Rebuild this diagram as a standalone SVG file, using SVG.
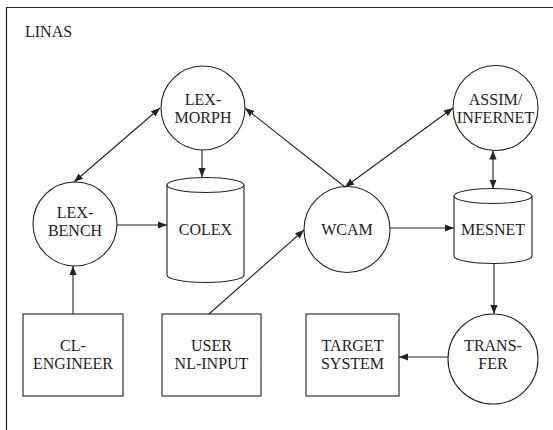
<svg xmlns="http://www.w3.org/2000/svg" width="553" height="430" viewBox="0 0 553 430">
<style>
.s{fill:#fff;stroke:#222;stroke-width:1.1}
.t{font-family:"Liberation Serif","Times New Roman",serif;font-size:16px;fill:#222;text-anchor:middle}
.c{fill:none;stroke:#222;stroke-width:1.1}
</style>
<defs>
<marker id="a" viewBox="0 0 10 10" refX="10" refY="5" markerWidth="9" markerHeight="9" markerUnits="userSpaceOnUse" orient="auto-start-reverse">
<path d="M0,1 L10,5 L0,9 Z" fill="#222"/>
</marker>
</defs>
<rect width="553" height="430" fill="#fff"/>
<path d="M6.5,430 V7.5 H553" fill="none" stroke="#222" stroke-width="1.2"/>
<text x="25" y="37" class="t" style="text-anchor:start">LINAS</text>

<g id="lexmorph"><circle cx="203" cy="108" r="42" class="s"/><text x="203" y="105" class="t">LEX-</text><text x="203" y="123" class="t">MORPH</text></g>
<g id="assim"><circle cx="495.5" cy="108" r="42.5" class="s"/><text x="495.5" y="105" class="t">ASSIM/</text><text x="495.5" y="123" class="t">INFERNET</text></g>
<g id="lexbench"><circle cx="75" cy="224" r="42" class="s"/><text x="75" y="218" class="t">LEX-</text><text x="75" y="236" class="t">BENCH</text></g>
<g id="colex"><path d="M167,185 V275 A38.5,7.5 0 0 0 244,275 V185" class="s"/><ellipse cx="205.5" cy="185" rx="38.5" ry="7.5" class="s"/><text x="205.5" y="235" class="t">COLEX</text></g>
<g id="wcam"><circle cx="347" cy="229.5" r="43" class="s"/><text x="347" y="235" class="t">WCAM</text></g>
<g id="mesnet"><path d="M454,196 V256 A39,7.5 0 0 0 532,256 V196" class="s"/><ellipse cx="493" cy="196" rx="39" ry="7.5" class="s"/><text x="493" y="235" class="t">MESNET</text></g>
<g id="clengineer"><rect x="23" y="314" width="100" height="82" class="s"/><text x="73" y="351" class="t">CL-</text><text x="73" y="369" class="t">ENGINEER</text></g>
<g id="user"><rect x="162" y="314" width="99" height="82" class="s"/><text x="211.5" y="351" class="t">USER</text><text x="211.5" y="369" class="t">NL-INPUT</text></g>
<g id="target"><rect x="306" y="314" width="93" height="82" class="s"/><text x="352.5" y="351" class="t">TARGET</text><text x="352.5" y="369" class="t">SYSTEM</text></g>
<g id="transfer"><circle cx="493" cy="359" r="45" class="s"/><text x="493" y="351" class="t">TRANS-</text><text x="493" y="369" class="t">FER</text></g>

<g id="connectors">
<line x1="74" y1="182" x2="160" y2="108" class="c" marker-start="url(#a)" marker-end="url(#a)"/>
<line x1="202" y1="150" x2="202" y2="177" class="c" marker-end="url(#a)"/>
<line x1="345" y1="187" x2="245" y2="108" class="c" marker-end="url(#a)"/>
<line x1="345" y1="187" x2="453" y2="108" class="c" marker-start="url(#a)" marker-end="url(#a)"/>
<line x1="493" y1="150.5" x2="493" y2="188.5" class="c" marker-start="url(#a)" marker-end="url(#a)"/>
<line x1="117" y1="225" x2="167" y2="225" class="c" marker-end="url(#a)"/>
<line x1="390" y1="228" x2="454" y2="228" class="c" marker-end="url(#a)"/>
<line x1="73" y1="314" x2="73" y2="266" class="c" marker-end="url(#a)"/>
<line x1="209" y1="314" x2="304" y2="230" class="c" marker-end="url(#a)"/>
<line x1="494" y1="263.5" x2="494" y2="314" class="c" marker-end="url(#a)"/>
<line x1="448" y1="357" x2="399" y2="357" class="c" marker-end="url(#a)"/>
</g>
</svg>
